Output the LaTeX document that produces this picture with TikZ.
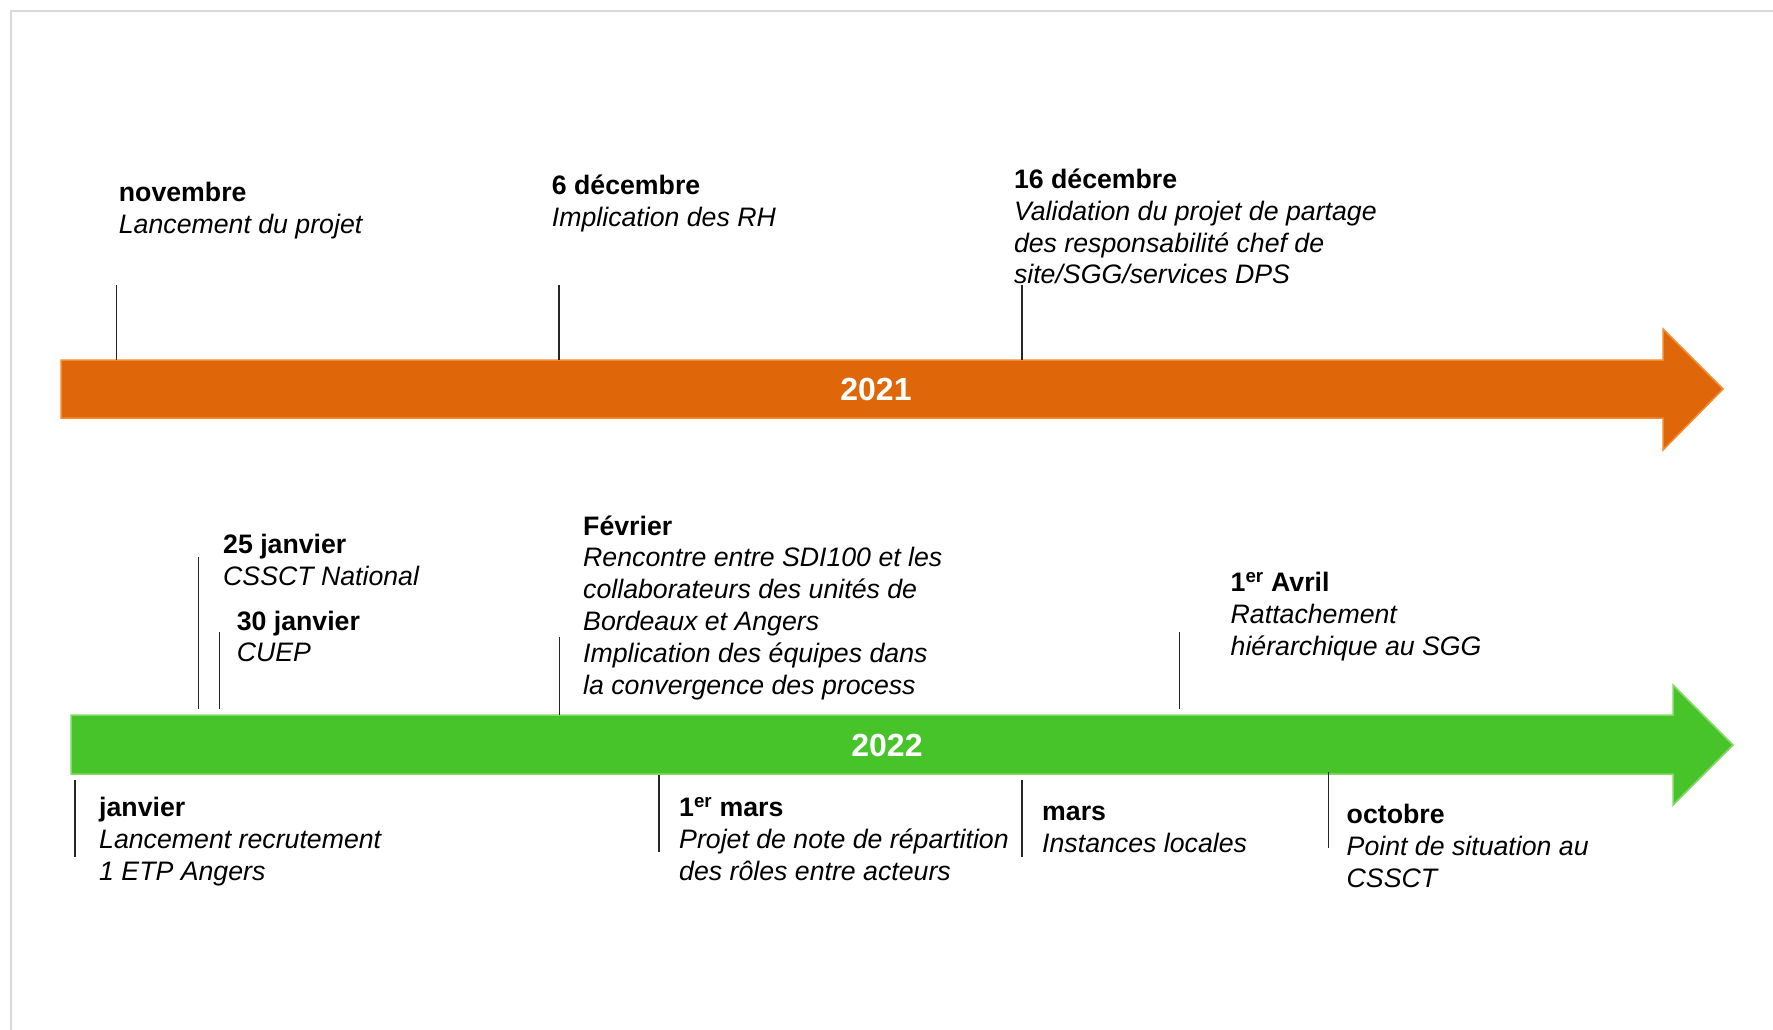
\documentclass[tikz,border=0pt]{standalone}
\usepackage{fontspec}
\setmainfont{Liberation Sans}
\usetikzlibrary{positioning}
\definecolor{orangebar}{RGB}{224,102,10}
\definecolor{orangeedge}{RGB}{242,140,45}
\definecolor{greenbar}{RGB}{70,196,42}
\definecolor{greenedge}{RGB}{130,218,100}
\definecolor{framegray}{RGB}{217,217,217}
\newcommand{\eventtext}[1]{\begin{tabular}[t]{@{}l@{}}#1\end{tabular}}
\tikzstyle{event} = [anchor=base west, inner sep=0pt, font=\fontsize{26.7}{31.9}\selectfont]
\tikzstyle{tick} = [draw, black!85, line width=1.2pt]
\tikzstyle{year} = [text=white, inner sep=0pt, font=\fontsize{32}{38}\selectfont\bfseries]

\begin{document}
\begin{tikzpicture}[x=1pt, y=-1pt]
    \useasboundingbox (0,0) rectangle (1773,1030);
    % Frame
    \draw [framegray, line width=1.5pt] (11,1030) -- (11,11) -- (1773,11);
    % Year arrows
    \filldraw [fill=orangebar, draw=orangeedge, line width=1.5pt]
        (61,360) -- (1663,360) -- (1663,329) -- (1723,389) -- (1663,450) -- (1663,418) -- (61,418) -- cycle;
    \filldraw [fill=greenbar, draw=greenedge, line width=1.5pt]
        (71,715) -- (1673,715) -- (1673,685) -- (1733,745) -- (1673,805) -- (1673,774) -- (71,774) -- cycle;
    \node [year] (y2021) at (876,389) {2021};
    \node [year] (y2022) at (887,745) {2022};
    % Place events 2021
    \node [event] (nov) at (118.7,201.5) {\eventtext{\textbf{novembre}\\\textit{Lancement du projet}}};
    \node [event] (dec6) at (551.7,194.3) {\eventtext{\textbf{6 décembre}\\\textit{Implication des RH}}};
    \node [event] (dec16) at (1013.8,188.3) {\eventtext{\textbf{16 décembre}\\\textit{Validation du projet de partage}\\\textit{des responsabilité chef de}\\\textit{site/SGG/services DPS}}};
    % Place events 2022, above
    \node [event] (jan25) at (223,553.3) {\eventtext{\textbf{25 janvier}\\\textit{CSSCT National}}};
    \node [event] (jan30) at (236.6,630) {\eventtext{\textbf{30 janvier}\\\textit{CUEP}}};
    \node [event] (fev) at (583,535) {\eventtext{\textbf{Février}\\\textit{Rencontre entre SDI100 et les}\\\textit{collaborateurs des unités de}\\\textit{Bordeaux et Angers}\\\textit{Implication des équipes dans}\\\textit{la convergence des process}}};
    \node [event] (avr) at (1230.5,591.7) {\eventtext{\textbf{1\textsuperscript{er} Avril}\\\textit{Rattachement}\\\textit{hiérarchique au SGG}}};
    % Place events 2022, below
    \node [event] (jan) at (99,816.5) {\eventtext{\textbf{janvier}\\\textit{Lancement recrutement}\\\textit{1 ETP Angers}}};
    \node [event] (mar1) at (679,816.5) {\eventtext{\textbf{1\textsuperscript{er} mars}\\\textit{Projet de note de répartition}\\\textit{des rôles entre acteurs}}};
    \node [event] (mars) at (1042,820.5) {\eventtext{\textbf{mars}\\\textit{Instances locales}}};
    \node [event] (oct) at (1346.5,823.5) {\eventtext{\textbf{octobre}\\\textit{Point de situation au}\\\textit{CSSCT}}};
    % Tick ends
    \coordinate (nov-a) at (116.7,285);  \coordinate (nov-b) at (116.7,360);
    \coordinate (dec6-a) at (559,285);   \coordinate (dec6-b) at (559,360);
    \coordinate (dec16-a) at (1022,285); \coordinate (dec16-b) at (1022,360);
    \coordinate (jan25-a) at (198.7,557); \coordinate (jan25-b) at (198.7,709);
    \coordinate (jan30-a) at (219.6,632); \coordinate (jan30-b) at (219.6,709);
    \coordinate (fev-a) at (559.3,637);  \coordinate (fev-b) at (559.3,715);
    \coordinate (avr-a) at (1179.8,632); \coordinate (avr-b) at (1179.8,709);
    \coordinate (jan-a) at (75,780);     \coordinate (jan-b) at (75,857);
    \coordinate (mar1-a) at (659,775);   \coordinate (mar1-b) at (659,852);
    \coordinate (mars-a) at (1022,780);  \coordinate (mars-b) at (1022,857);
    \coordinate (oct-a) at (1328.8,772); \coordinate (oct-b) at (1328.8,848);
    % Draw ticks
    \path [tick] (nov-a) -- (nov-b);
    \path [tick] (dec6-a) -- (dec6-b);
    \path [tick] (dec16-a) -- (dec16-b);
    \path [tick] (jan25-a) -- (jan25-b);
    \path [tick] (jan30-a) -- (jan30-b);
    \path [tick] (fev-a) -- (fev-b);
    \path [tick] (avr-a) -- (avr-b);
    \path [tick] (jan-a) -- (jan-b);
    \path [tick] (mar1-a) -- (mar1-b);
    \path [tick] (mars-a) -- (mars-b);
    \path [tick] (oct-a) -- (oct-b);
\end{tikzpicture}
\end{document}
